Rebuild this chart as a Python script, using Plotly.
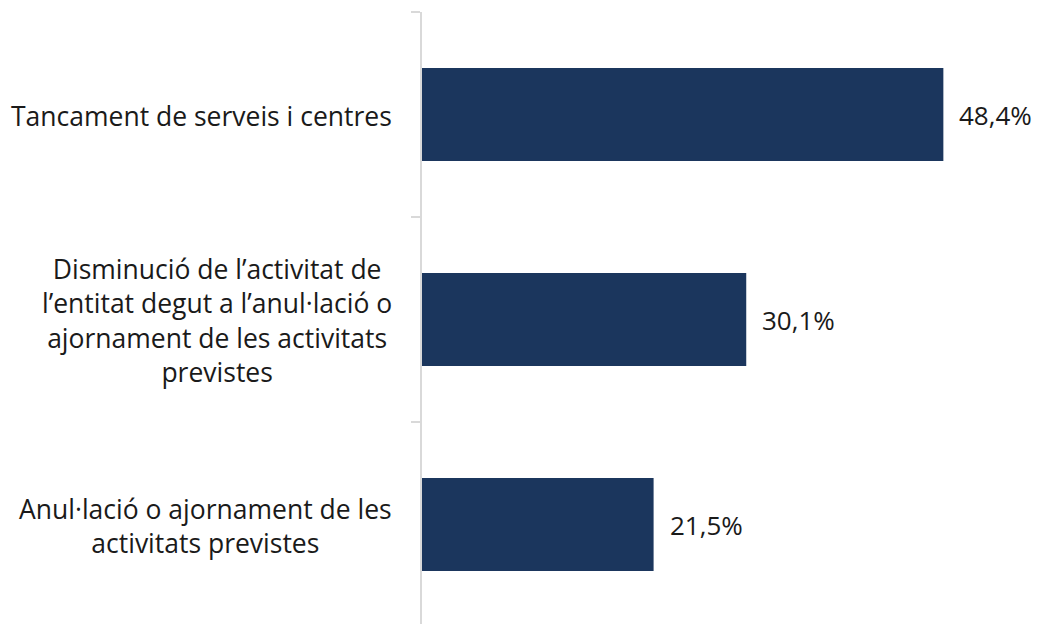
import plotly.graph_objects as go

categories = [
    "Tancament de serveis i centres",
    "Disminució de l’activitat de<br>l’entitat degut a l’anul·lació o<br>ajornament de les activitats<br>previstes",
    "Anul·lació o ajornament de les<br>activitats previstes",
]
values = [48.4, 30.1, 21.5]

BAR_COLOR = "#1b365d"
TEXT_COLOR = "#1a1a1a"
FONT = "Open Sans, Noto Sans, Arial"
LABEL_SIZE = 26.5
VALUE_SIZE = 26

fig = go.Figure(
    go.Bar(
        x=values,
        y=categories,
        orientation="h",
        marker=dict(color=BAR_COLOR, line=dict(width=0)),
        hoverinfo="skip",
    )
)

# category labels: right edge near the axis, lines centred within the block
for cat in categories:
    fig.add_annotation(
        x=0,
        y=cat,
        xref="x",
        yref="y",
        text=cat,
        showarrow=False,
        xanchor="right",
        yanchor="middle",
        align="center",
        xshift=-28,
        yshift=-1,
        font=dict(family=FONT, size=LABEL_SIZE, color=TEXT_COLOR),
    )

# value labels
for cat, v in zip(categories, values):
    fig.add_annotation(
        x=v,
        y=cat,
        xref="x",
        yref="y",
        text=f"{v:.1f}".replace(".", ",") + "%",
        showarrow=False,
        xanchor="left",
        yanchor="middle",
        xshift=14,
        font=dict(family=FONT, size=VALUE_SIZE, color=TEXT_COLOR),
    )

# the page body adds an 8px offset, margins compensate for it
fig.update_layout(
    width=1040,
    height=624,
    margin=dict(l=414, r=12, t=4, b=0),
    paper_bgcolor="white",
    plot_bgcolor="white",
    bargap=0.546,
    showlegend=False,
    font=dict(family=FONT, size=VALUE_SIZE, color=TEXT_COLOR),
)
fig.update_xaxes(
    range=[0, 57],
    showgrid=False,
    zeroline=False,
    showticklabels=False,
    showline=False,
    ticks="",
)
fig.update_yaxes(
    type="category",
    categoryorder="array",
    categoryarray=categories,
    range=[2.524, -0.5],
    showgrid=False,
    zeroline=False,
    showline=True,
    linecolor="#d9d9d9",
    linewidth=1.5,
    ticks="outside",
    tickson="boundaries",
    ticklen=9,
    tickcolor="#d9d9d9",
    tickwidth=1.5,
    showticklabels=False,
)

fig.write_html("out.html")
